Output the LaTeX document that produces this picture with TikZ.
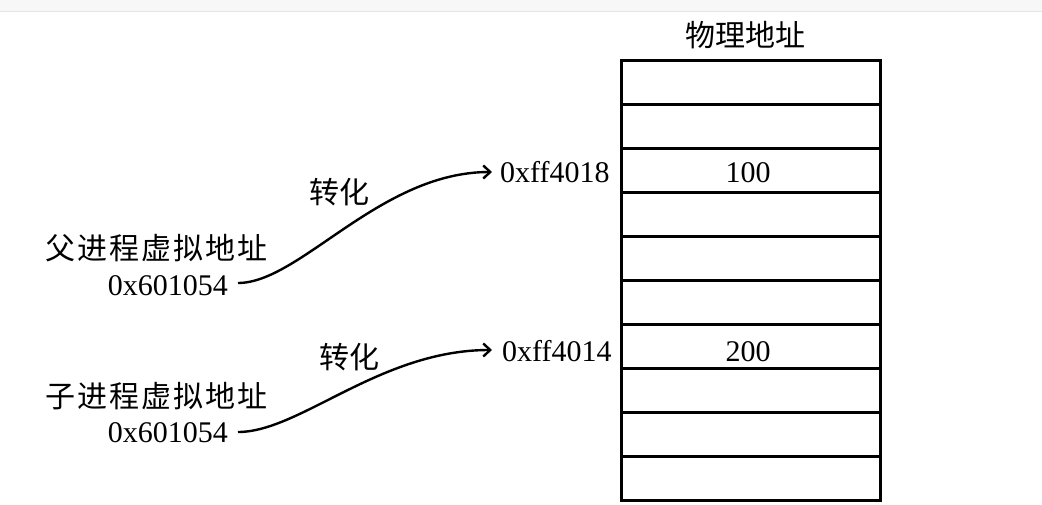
\documentclass[tikz,border=0pt]{standalone}
\usepackage{fontspec}
\setmainfont{Liberation Serif}
\newfontfamily\cjk{Noto Sans CJK SC}
\newfontfamily\cjkwide[LetterSpace=7]{Noto Sans CJK SC}
\usetikzlibrary{arrows.meta}
\definecolor{bandgray}{HTML}{F7F7F7}
\definecolor{bandline}{HTML}{E6E6E6}
\begin{document}
\begin{tikzpicture}[x=1pt,y=-1pt,
  cell/.style={draw,line width=3pt,minimum width=259pt,minimum height=44pt,inner sep=0pt,anchor=north west},
  txt/.style={inner sep=0pt,font=\fontsize{30}{36}\selectfont},
  zh/.style={inner sep=0pt,font=\fontsize{30}{36}\selectfont\cjk},
  zhw/.style={inner sep=0pt,font=\fontsize{30}{36}\selectfont\cjkwide},
  conv/.style={line width=2.4pt,-{Straight Barb[length=7pt,width=13pt,line width=2.4pt]}}]
\useasboundingbox (0,0) rectangle (1042,505);
\fill[bandgray] (0,0) rectangle (1042,11);
\draw[bandline,line width=1.2pt] (0,11.5) -- (1042,11.5);
% memory cells
\foreach \i in {1,...,10}{
  \node[cell] (r\i) at (620,{59+44*(\i-1)}) {};
}
\node[txt,anchor=base] (v100) at (748,183) {100};
\node[txt,anchor=base] (v200) at (748,361) {200};
\node[zh] (title) at (745,35) {物理地址};
% physical addresses
\node[txt,anchor=base west] (pa1) at (500,183) {0xff4018};
\node[txt,anchor=base west] (pa2) at (502,361) {0xff4014};
% virtual addresses
\node[zhw,anchor=west] (parent) at (45,248) {父进程虚拟地址};
\node[txt,anchor=base east] (va1) at (228,295) {0x601054};
\node[zhw,anchor=west] (child) at (45,396) {子进程虚拟地址};
\node[txt,anchor=base east] (va2) at (228,442) {0x601054};
% labels
\node[zh] (t1) at (339,192) {转化};
\node[zh] (t2) at (349,357) {转化};
% connectors
\coordinate (s1) at ([xshift=10pt,yshift=12pt]va1.base east);
\coordinate (e1) at ([xshift=-8pt,yshift=11pt]pa1.base west);
\coordinate (s2) at ([xshift=10pt,yshift=10pt]va2.base east);
\coordinate (e2) at ([xshift=-10pt,yshift=11pt]pa2.base west);
\draw[conv] (s1) .. controls ([xshift=62pt]s1) and ([xshift=-112pt]e1) .. (e1);
\draw[conv] (s2) .. controls ([xshift=62pt]s2) and ([xshift=-112pt]e2) .. (e2);
\end{tikzpicture}
\end{document}
